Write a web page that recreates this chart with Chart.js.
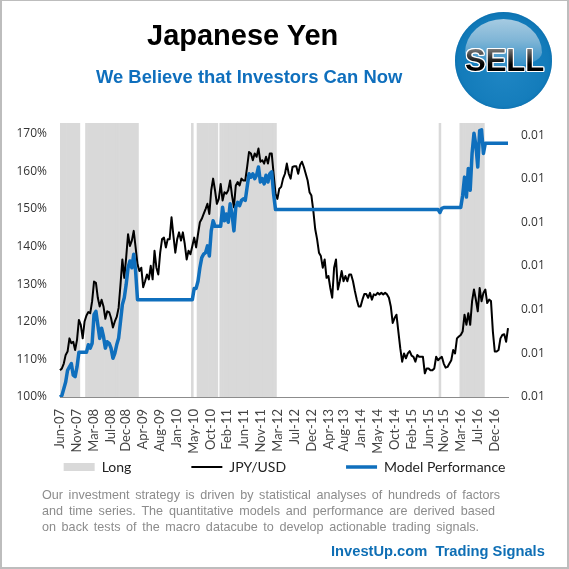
<!DOCTYPE html>
<html>
<head>
<meta charset="utf-8">
<script src="https://cdn.jsdelivr.net/npm/chart.js@4"></script>
<style>
html,body{margin:0;padding:0;background:#fff;}
#page{position:relative;width:569px;height:569px;overflow:hidden;background:#fff;}
#frame{position:absolute;left:0;top:0;width:565px;height:566px;border:solid #bdbdbd;border-width:1px 2px 2px 2px;pointer-events:none;z-index:5;}
canvas{position:absolute;left:0;top:0;}
.t{position:absolute;white-space:nowrap;font-family:"Liberation Sans",Arial,sans-serif;z-index:3;}
#title{left:147px;top:19px;font-size:29px;font-weight:bold;color:#000;}
#sub{left:96px;top:66px;font-size:18.4px;font-weight:bold;color:#0f6fbd;}
.foot{left:42px;width:458px;font-size:12.6px;color:#8c8c8c;text-align:justify;text-align-last:justify;white-space:normal;line-height:16px;height:16px;}
#brand{left:331px;top:543px;font-size:14.7px;font-weight:bold;color:#0f6fb5;}
#btn{position:absolute;left:455px;top:12px;width:97px;height:97px;border-radius:50%;z-index:2;
 background:radial-gradient(circle at 50% 60%,#1f86c4 0%,#1079b8 70%,#0d6fae 100%);box-shadow:inset 0 0 3px #0a6aa8;}
#hl{position:absolute;left:10px;top:7px;width:77px;height:48px;border-radius:50% 50% 45% 45%/70% 70% 30% 30%;background:linear-gradient(180deg,#a6cbe2 0%,#7fb5d6 45%,#2f8dc6 100%);}
#sell{position:absolute;left:465px;top:44px;z-index:3;font-family:"Liberation Sans",Arial,sans-serif;font-weight:bold;font-size:31px;line-height:34px;
 background:linear-gradient(180deg,#777 15%,#000 60%);-webkit-background-clip:text;background-clip:text;color:transparent;
 filter:drop-shadow(1px 0 0 #fff) drop-shadow(-1px 0 0 #fff) drop-shadow(0 1px 0 #fff) drop-shadow(0 -1px 0 #fff);}
</style>
</head>
<body>
<div id="page">
<canvas id="c" width="569" height="569"></canvas>
<div class="t" id="title">Japanese Yen</div>
<div class="t" id="sub">We Believe that Investors Can Now</div>
<div id="btn"><div id="hl"></div></div><div id="sell">SELL</div>
<div class="t foot" style="top:487px">Our investment strategy is driven by statistical analyses of hundreds of factors</div>
<div class="t foot" style="top:503px;width:453px">and time series. The quantitative models and performance are derived based</div>
<div class="t foot" style="top:519px;width:437px">on back tests of the macro datacube to develop actionable trading signals.</div>
<div class="t" id="brand">InvestUp.com&nbsp; Trading Signals</div>
<div id="frame"></div>
</div>
<script>
const tickLabels = ["Jun-07","Nov-07","Mar-08","Jul-08","Dec-08","Apr-09","Aug-09","Jan-10","May-10","Oct-10","Feb-11","Jun-11","Nov-11","Mar-12","Jul-12","Dec-12","Apr-13","Aug-13","Jan-14","May-14","Oct-14","Feb-15","Jun-15","Nov-15","Mar-16","Jul-16","Dec-16"];
const tickIndex = [0,9,18,27,35,44,53,62,71,80,88,97,106,115,124,133,142,150,159,168,177,186,195,203,212,221,230];

const jpyUsd = [
107.1,107.6,108.9,111.2,112.1,115.6,114.3,114.7,112.5,115.2,
120.5,119.2,115.6,120.1,121.7,122.6,122.3,125.5,130.7,130.4,
126.4,124.1,125.9,124.1,120.8,122.8,122.6,121.0,118.5,120.1,
121.3,123.7,129.9,136.6,131.7,137.1,143.3,140.2,141.6,144.2,
139.8,135.3,133.5,134.4,129.2,130.8,132.6,131.3,134.9,131.3,
138.9,134.4,132.6,138.4,142.0,142.4,139.8,142.0,142.0,147.8,
142.9,138.4,142.0,143.8,141.6,143.8,140.7,136.6,138.9,138.0,
140.2,142.4,139.8,143.3,146.5,147.4,148.7,150.0,151.4,148.7,
155.0,158.1,155.0,151.4,152.7,156.7,152.3,154.5,154.1,155.0,
157.6,153.6,150.5,156.3,157.2,156.3,158.1,157.6,157.6,161.2,
165.2,164.8,163.0,164.8,163.9,166.1,162.6,163.0,162.1,163.9,
162.1,164.8,164.8,159.4,154.1,152.7,155.4,155.9,158.1,159.4,
162.1,159.4,158.1,161.2,161.4,161.4,159.4,161.7,162.6,161.2,
159.4,157.6,154.5,153.6,149.6,144.7,142.0,138.4,137.5,134.4,
136.6,131.7,132.2,129.0,126.4,134.4,136.6,128.6,130.8,133.5,
130.8,132.2,130.8,132.6,132.6,130.8,128.2,125.9,124.1,124.1,
125.9,127.4,127.4,126.4,127.7,125.9,127.3,127.1,127.7,127.3,
127.7,127.3,127.7,127.3,126.4,124.1,119.7,121.0,121.9,117.4,
113.0,109.4,111.6,110.3,111.6,112.2,111.0,110.7,109.4,111.2,
110.7,110.7,110.7,106.3,107.6,107.6,107.1,107.1,107.6,110.7,
109.8,110.3,110.7,108.9,107.8,108.0,108.9,109.8,112.5,111.6,
115.6,116.1,116.5,117.4,121.9,119.2,122.3,119.2,125.5,128.6,
125.9,122.8,129.0,125.5,127.7,128.6,125.0,125.9,125.5,117.4,
112.1,112.1,112.5,115.6,116.5,116.7,114.7,118.3];

const modelPerformance = [
100.0,100.4,102.2,104.0,107.1,108.0,108.9,105.8,105.4,108.0,
111.9,111.9,111.9,111.9,111.9,113.9,113.0,114.3,121.9,122.8,
119.2,115.6,118.3,116.1,113.0,114.7,114.3,113.0,110.3,111.6,
113.9,115.6,120.1,124.6,126.4,129.9,134.4,136.2,134.4,138.0,
133.5,125.9,125.9,125.9,125.9,125.9,125.9,125.9,125.9,125.9,
125.9,125.9,125.9,125.9,125.9,125.9,125.9,125.9,125.9,125.9,
125.9,125.9,125.9,125.9,125.9,125.9,125.9,125.9,125.9,125.9,
125.9,128.9,128.9,130.8,134.4,137.1,138.0,138.4,140.2,137.5,
144.2,146.9,145.4,145.4,145.4,145.4,150.5,146.9,148.7,146.5,
151.4,148.7,144.2,150.5,151.8,150.9,152.3,152.7,152.3,155.9,
159.4,158.5,159.4,158.1,159.0,161.2,157.2,158.1,156.7,159.0,
157.2,159.4,159.9,154.0,149.9,149.9,149.9,149.9,149.9,149.9,
149.9,149.9,149.9,149.9,149.9,149.9,149.9,149.9,149.9,149.9,
149.9,149.9,149.9,149.9,149.9,149.9,149.9,149.9,149.9,149.9,
149.9,149.9,149.9,149.9,149.9,149.9,149.9,149.9,149.9,149.9,
149.9,149.9,149.9,149.9,149.9,149.9,149.9,149.9,149.9,149.9,
149.9,149.9,149.9,149.9,149.9,149.9,149.9,149.9,149.9,149.9,
149.9,149.9,149.9,149.9,149.9,149.9,149.9,149.9,149.9,149.9,
149.9,149.9,149.9,149.9,149.9,149.9,149.9,149.9,149.9,149.9,
149.9,149.9,149.9,149.9,149.9,149.9,149.9,149.9,149.9,149.9,
149.9,149.1,150.2,150.4,150.4,150.4,150.4,150.4,150.4,150.4,
150.4,150.4,150.4,153.6,158.5,153.2,160.8,155.0,164.8,170.2,
167.0,161.2,170.9,171.1,164.8,167.5,167.5,167.5,167.5,167.5,
167.5,167.5,167.5,167.5,167.5,167.5,167.5,167.5];

const longRanges = [[0,10],[14,41],[70,70],[73,83],[85,114],[201,201],[212,224]];
const leftTicks = [100,110,120,130,140,150,160,170];
const rightTicks = [0.008,0.009,0.010,0.011,0.012,0.013,0.014];

const categories = jpyUsd.map((_, i) => { const k = tickIndex.indexOf(i); return k >= 0 ? tickLabels[k] : ""; });
const TOP = 172.9;
const longBars = jpyUsd.map((_, i) => longRanges.some(r => i >= r[0] && i <= r[1]) ? TOP : null);

/* The legend's row padding also pads it vertically, so lift the box back under the axis. */
const legendLift = {id:"legendLift",afterLayout(chart){const h=chart.legend.height;chart.legend.top=400;chart.legend.bottom=400+h;}};

new Chart(document.getElementById("c"), {
  type: "bar",
  plugins:[legendLift],
  data: {
    labels: categories,
    datasets: [
      {type:"bar",label:"Long",data:longBars,backgroundColor:"#d9d9d9",borderWidth:0,barPercentage:1,categoryPercentage:1,order:3,yAxisID:"y",pointStyle:"rect"},
      {type:"line",label:"JPY/USD",data:jpyUsd,borderColor:"#000",backgroundColor:"#000",borderWidth:2,borderJoinStyle:"round",pointRadius:0,tension:0,order:2,yAxisID:"y",pointStyle:"line"},
      {type:"line",label:"Model Performance",data:modelPerformance,borderColor:"#0f6fbd",backgroundColor:"#0f6fbd",borderWidth:3.5,borderJoinStyle:"round",pointRadius:0,tension:0,order:1,yAxisID:"y",pointStyle:"line"}
    ]
  },
  options: {
    responsive:false,animation:false,devicePixelRatio:1,
    layout:{padding:{top:123,bottom:26,left:0,right:0}},
    plugins:{
      title:{display:false},tooltip:{enabled:false},
      legend:{position:"bottom",labels:{usePointStyle:true,pointStyleWidth:31,boxHeight:8,padding:60,color:"#222",font:{family:"Lato",size:14},
        sort:(a,b)=>a.datasetIndex-b.datasetIndex}}
    },
    scales:{
      x:{offset:false,grid:{display:false},border:{display:true,color:"#8c8c8c"},
        afterFit(s){s.height=62;},
        ticks:{autoSkip:false,maxRotation:90,minRotation:90,padding:4,color:"#444",font:{family:"Lato",size:13},
          callback(v){return this.getLabelForValue(v);}}},
      y:{position:"left",min:100,max:TOP,grid:{display:false},border:{display:false},
        afterFit(s){s.width=60;},
        afterBuildTicks(s){s.ticks=leftTicks.map(v=>({value:v}));},
        ticks:{padding:5,color:"#333",font:{family:"Open Sans",size:12},callback:v=>v+"%"}},
      y2:{position:"right",min:0.008,max:0.014278,grid:{display:false},border:{display:false},
        afterFit(s){s.width=61;},
        afterBuildTicks(s){s.ticks=rightTicks.map(v=>({value:v}));},
        ticks:{padding:5,color:"#333",font:{family:"Open Sans",size:12},callback:v=>v.toFixed(2)}}
    }
  }
});
</script>
</body>
</html>
